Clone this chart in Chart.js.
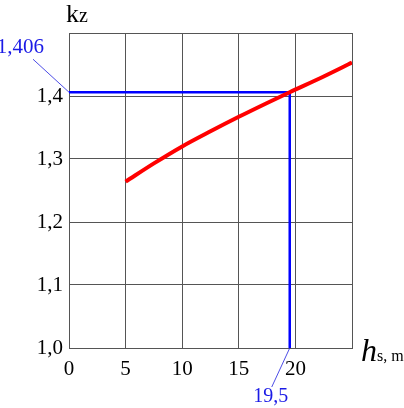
<!DOCTYPE html>
<html>
<head>
<meta charset="utf-8">
<script src="https://cdn.jsdelivr.net/npm/chart.js@4"></script>
<style>
body { margin: 0; background: #fff; }
</style>
</head>
<body>
<canvas id="myChart" width="404" height="408"></canvas>
<script>
// depth h_s, m  ->  coefficient k_z
var depth = [5, 7.5, 10, 12.5, 15, 17.5, 19.5, 22.5, 25];
var kz = [1.264, 1.293, 1.320, 1.344, 1.367, 1.389, 1.406, 1.431, 1.453];
// blue reading lines
var readDepth = 19.5;
var readKz = 1.406;
var xTicks = [0, 5, 10, 15, 20];
var yTicks = [1.0, 1.1, 1.2, 1.3, 1.4];

var serif = '"Liberation Serif"';

var labelsPlugin = {
    id: 'labels',
    afterDraw: function(chart) {
        var c = chart.ctx;
        var xs = chart.scales.x, ys = chart.scales.y;
        c.save();
        // axis titles
        c.fillStyle = '#000';
        c.textBaseline = 'alphabetic';
        c.textAlign = 'left';
        c.font = '26px ' + serif;
        c.fillText('k', 66, 22);
        var kw = c.measureText('k').width;
        c.font = '20px ' + serif;
        c.fillText('z', 66 + kw, 22);
        c.font = 'italic 32px ' + serif;
        c.fillText('h', 361, 361);
        var hw = c.measureText('h').width;
        c.font = '16px ' + serif;
        c.fillText('s, m', 361 + hw, 361);

        // leader lines and value labels
        var px0 = xs.getPixelForValue(0), py0 = ys.getPixelForValue(readKz);
        var px1 = xs.getPixelForValue(readDepth), py1 = ys.getPixelForValue(1.0);
        c.strokeStyle = '#2020e0';
        c.lineWidth = 0.8;
        c.beginPath();
        c.moveTo(px0, py0); c.lineTo(px0 - 36, py0 - 33);
        c.moveTo(px1, py1); c.lineTo(px1 - 18, py1 + 39);
        c.stroke();
        c.fillStyle = '#1a1ae6';
        c.font = '21px ' + serif;
        c.textAlign = 'right';
        c.fillText(readKz.toFixed(3).replace('.', ','), px0 - 25, py0 - 39);
        c.textAlign = 'center';
        c.font = '20px ' + serif;
        c.fillText(String(readDepth).replace('.', ','), px1 - 19, py1 + 54);
        c.restore();
    }
};

var ctx = document.getElementById("myChart");
var chart = new Chart(ctx, {
    type: 'line',
    data: {
        datasets: [
            {
            data: depth.map(function(d, i) { return {x: d, y: kz[i]}; }),
            borderColor: '#ff0000',
            borderWidth: 4,
            pointRadius: 0,
            cubicInterpolationMode: 'monotone',
            borderCapStyle: 'butt'
            },{
            data: [{x: 0, y: readKz}, {x: readDepth, y: readKz}, {x: readDepth, y: 1.0}],
            borderColor: '#0000ff',
            borderWidth: 2.5,
            pointRadius: 0,
            tension: 0
            }
        ]
    },
    plugins: [labelsPlugin],
    options: {
        responsive: false,
        animation: false,
        layout: { padding: { left: 0, top: 33, right: 52, bottom: 0 } },
        plugins: { legend: { display: false }, tooltip: { enabled: false } },
        scales: {
            x: {
                type: 'linear',
                min: 0, max: 25,
                afterFit: function(s) { s.height = 60; },
                afterBuildTicks: function(s) { s.ticks = xTicks.concat([25]).map(function(v) { return {value: v}; }); },
                ticks: {
                    color: '#000',
                    font: { family: serif, size: 21 },
                    padding: 9,
                    maxRotation: 0,
                    callback: function(v) { return xTicks.indexOf(v) >= 0 ? String(v) : ''; }
                },
                grid: { color: '#555', lineWidth: 1, drawTicks: false },
                border: { color: '#555' }
            },
            y: {
                min: 1.0, max: 1.5,
                afterFit: function(s) { s.width = 69; },
                afterBuildTicks: function(s) { s.ticks = yTicks.concat([1.5]).map(function(v) { return {value: v}; }); },
                ticks: {
                    color: '#000',
                    font: { family: serif, size: 21 },
                    padding: 6,
                    callback: function(v) {
                        return yTicks.some(function(t) { return Math.abs(t - v) < 1e-9; }) ? v.toFixed(1).replace('.', ',') : '';
                    }
                },
                grid: { color: '#555', lineWidth: 1, drawTicks: false },
                border: { color: '#555' }
            }
        }
    }
});
</script>
</body>
</html>
